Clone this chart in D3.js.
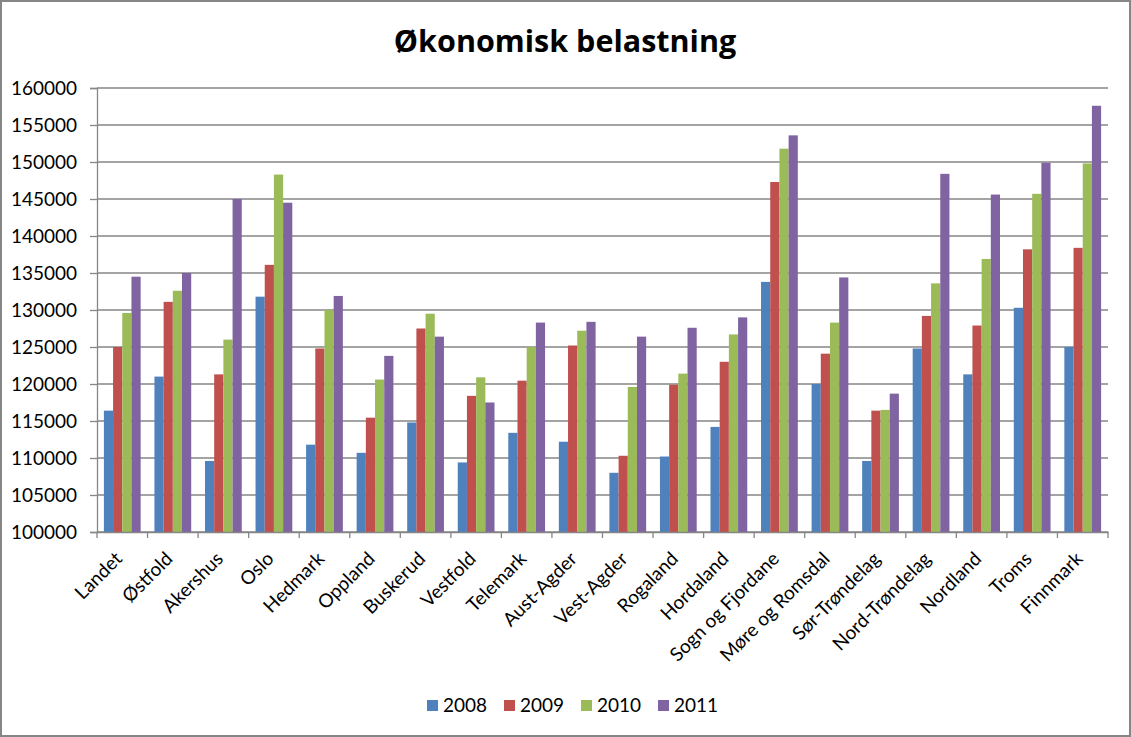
<!DOCTYPE html>
<html><head><meta charset="utf-8">
<script src="https://cdn.jsdelivr.net/npm/d3@7"></script>
<style>
html,body{margin:0;padding:0;background:#fff;}
</style></head>
<body>
<svg id="c" width="1131" height="737" font-family="Lato, 'Open Sans', sans-serif"></svg>
<script>
const categories = ["Landet","Østfold","Akershus","Oslo","Hedmark","Oppland","Buskerud","Vestfold","Telemark","Aust-Agder","Vest-Agder","Rogaland","Hordaland","Sogn og Fjordane","Møre og Romsdal","Sør-Trøndelag","Nord-Trøndelag","Nordland","Troms","Finnmark"];
const seriesNames = ["2008","2009","2010","2011"];
const v2008 = [116400,121000,109600,131800,111800,110700,114800,109400,113400,112200,108000,110200,114200,133800,120000,109600,124800,121300,130300,125000];
const v2009 = [125000,131100,121300,136100,124800,115450,127500,118400,120450,125200,110300,119900,123000,147300,124100,116400,129200,127900,138200,138400];
const v2010 = [129600,132600,126000,148300,130000,120600,129500,120900,125000,127200,119600,121400,126700,151800,128300,116500,133600,136900,145700,149800];
const v2011 = [134500,135000,145000,144500,131900,123800,126400,117500,128300,128400,126400,127600,129000,153600,134400,118700,148400,145600,149900,157600];
const yTicks = [100000,105000,110000,115000,120000,125000,130000,135000,140000,145000,150000,155000,160000];
const title = "Økonomisk belastning";
const colors = ["#4F81BD","#C0504D","#9BBB59","#8064A2"];
const values = [v2008,v2009,v2010,v2011];

const W = 1131, H = 737;
const m = {left:97, right:23, top:88, bottom:205};
const svg = d3.select("#c");

svg.append("rect").attr("x",1).attr("y",1).attr("width",W-2).attr("height",H-2)
  .attr("fill","#fff").attr("stroke","#868686").attr("stroke-width",2);

const x = d3.scaleBand().domain(categories).range([m.left, W-m.right]).paddingInner(0).paddingOuter(0);
const y = d3.scaleLinear().domain([100000,160000]).range([H-m.bottom, m.top]);

// gridlines
svg.append("g").selectAll("line").data(yTicks).join("line")
  .attr("x1",m.left).attr("x2",W-m.right)
  .attr("y1",d=>y(d)).attr("y2",d=>y(d))
  .attr("stroke","#868686").attr("stroke-width",1.3);

// bars
const bw = x.bandwidth()/(4+1.5);
const off = (x.bandwidth()-4*bw)/2;
values.forEach((arr,si)=>{
  svg.append("g").selectAll("rect").data(arr).join("rect")
    .attr("x",(d,i)=>x(categories[i])+off+si*bw)
    .attr("y",d=>y(d))
    .attr("width",bw)
    .attr("height",d=>y(100000)-y(d))
    .attr("fill",colors[si]);
});

// y axis
const yAxis = d3.axisLeft(y).tickValues(yTicks).tickSize(7).tickPadding(13).tickFormat(d3.format("d"));
const gy = svg.append("g").attr("transform",`translate(${m.left},0)`).call(yAxis);
gy.select(".domain").attr("stroke","#868686").attr("stroke-width",1.3);
gy.selectAll(".tick line").attr("stroke","#868686").attr("stroke-width",1.3);
gy.selectAll(".tick text").style("font-size","19px").style("font-family","Lato").attr("fill","#000");

// x axis
const gx = svg.append("g").attr("transform",`translate(0,${H-m.bottom})`)
  .call(d3.axisBottom(x).tickSize(0).tickFormat(""));
gx.select(".domain").attr("stroke","#868686").attr("stroke-width",1.3);
const boundaries = categories.map(c=>x(c)).concat([W-m.right]);
gx.append("g").selectAll("line").data(boundaries).join("line")
  .attr("x1",d=>d).attr("x2",d=>d).attr("y1",0).attr("y2",6)
  .attr("stroke","#868686").attr("stroke-width",1.3);
gx.append("g").selectAll("text").data(categories).join("text")
  .attr("transform",d=>`translate(${x(d)+x.bandwidth()/2+1},${28}) rotate(-45)`)
  .attr("text-anchor","end")
  .style("font-size","19px").style("font-family","Lato").attr("fill","#000")
  .text(d=>d);

// title
svg.append("text").attr("x",565).attr("y",52).attr("text-anchor","middle")
  .style("font-family","'Open Sans', sans-serif")
  .style("font-size","30.5px").style("font-weight","bold").attr("fill","#000").text(title);

// legend
const lg = svg.append("g").attr("transform","translate(427,700)");
const item = lg.selectAll("g").data(seriesNames).join("g")
  .attr("transform",(d,i)=>`translate(${i*77},0)`);
item.append("rect").attr("width",11).attr("height",11).attr("fill",(d,i)=>colors[i]);
item.append("text").attr("x",16).attr("y",12).style("font-size","19px").style("font-family","Lato").attr("fill","#000").text(d=>d);
</script>
</body></html>
